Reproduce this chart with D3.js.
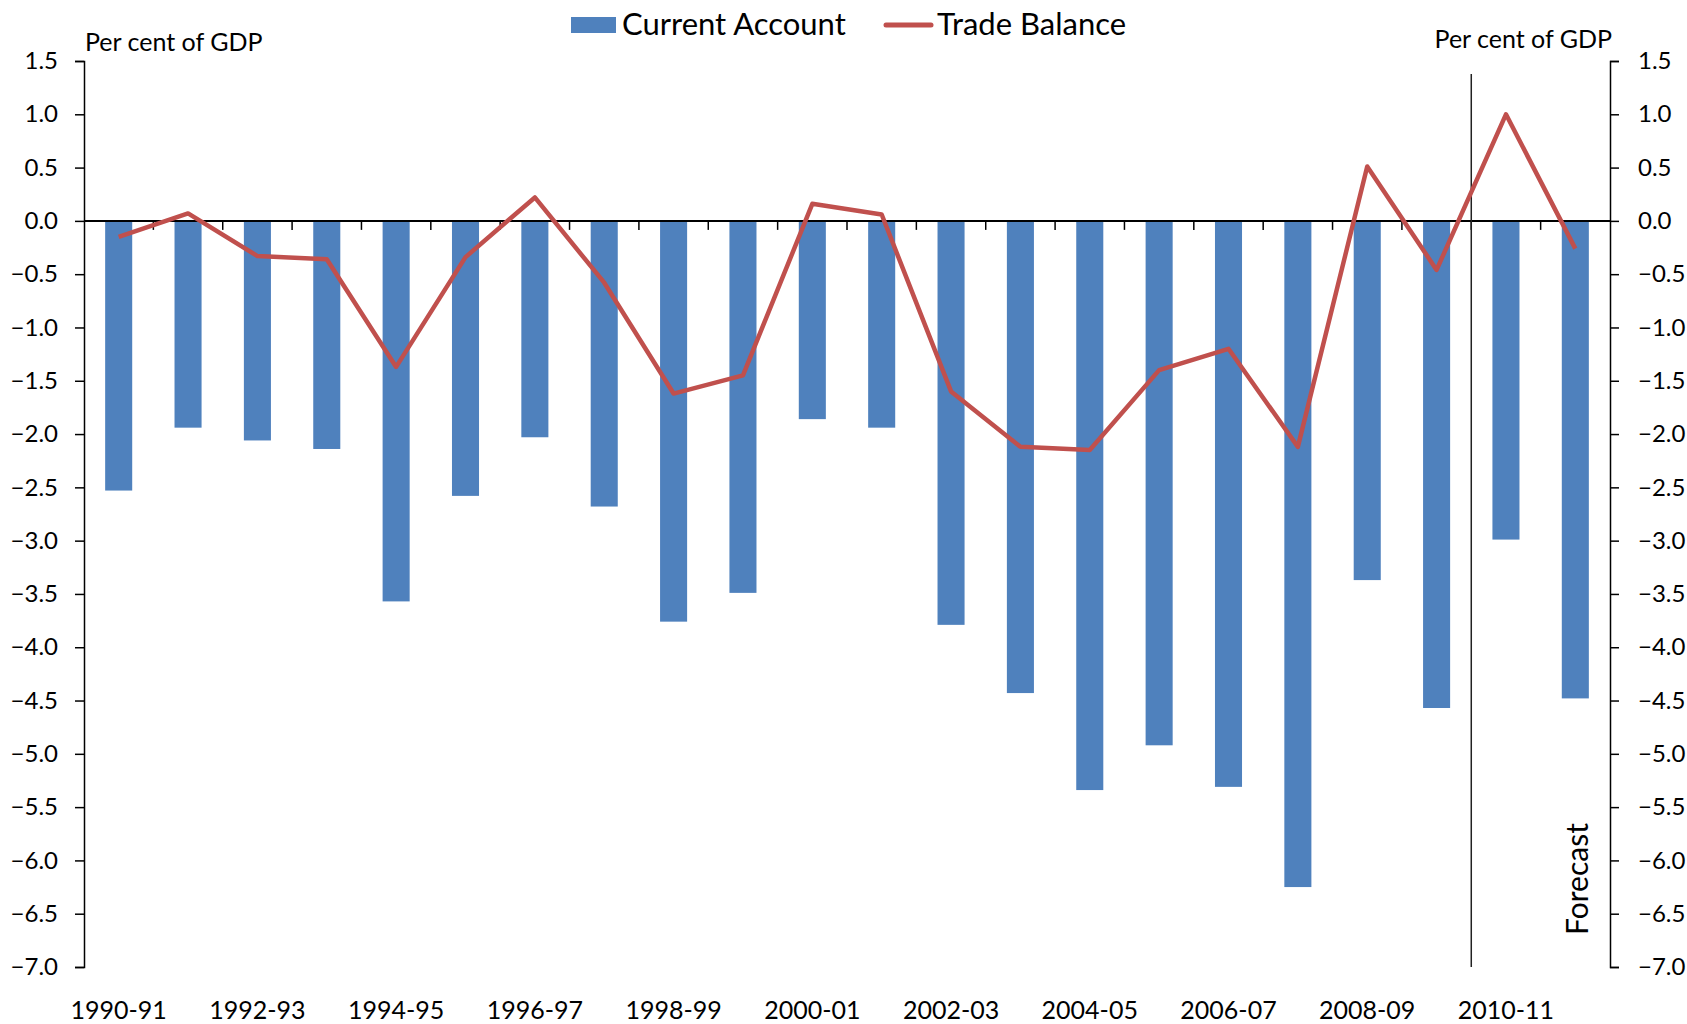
<!DOCTYPE html>
<html>
<head>
<meta charset="utf-8">
<script src="https://cdn.jsdelivr.net/npm/d3@7/dist/d3.min.js"></script>
<style>
  body { margin: 0; background: #fff; }
  text { font-family: Lato, "Open Sans", sans-serif; fill: #000; }
</style>
</head>
<body>
<script>
// financial years
var years = ["1990-91","1991-92","1992-93","1993-94","1994-95","1995-96","1996-97","1997-98",
    "1998-99","1999-00","2000-01","2001-02","2002-03","2003-04","2004-05","2005-06",
    "2006-07","2007-08","2008-09","2009-10","2010-11","2011-12"];

// Current account, per cent of GDP
var currentAccount = [-2.53, -1.94, -2.06, -2.14, -3.57, -2.58, -2.03, -2.68,
    -3.76, -3.49, -1.86, -1.94, -3.79, -4.43, -5.34, -4.92,
    -5.31, -6.25, -3.37, -4.57, -2.99, -4.48];

// Trade balance, per cent of GDP
var tradeBalance = [-0.15, 0.07, -0.33, -0.36, -1.37, -0.34, 0.22, -0.58,
    -1.62, -1.45, 0.16, 0.06, -1.60, -2.12, -2.15, -1.40,
    -1.20, -2.12, 0.51, -0.46, 1.00, -0.26];

var yTicks = d3.range(-7, 1.51, 0.5);
var forecastFrom = "2010-11";

var width = 1687, height = 1024;
var margin = {top: 61, right: 77, bottom: 57, left: 84};

var svg = d3.select("body")
    .append("svg")
    .attr("width", width)
    .attr("height", height);

var xScale = d3.scaleBand()
    .domain(years)
    .range([margin.left, width - margin.right])
    .paddingInner(0.61)
    .paddingOuter(0.305);

var yScale = d3.scaleLinear()
    .domain([-7, 1.5])
    .range([height - margin.bottom, margin.top]);

var step = xScale.step();
function centre(d) { return xScale(d) + xScale.bandwidth() / 2; }

// bars
svg.selectAll("rect.bar")
    .data(years)
    .enter()
    .append("rect")
    .attr("class", "bar")
    .attr("x", d => xScale(d))
    .attr("width", xScale.bandwidth())
    .attr("y", yScale(0))
    .attr("height", (d, i) => yScale(currentAccount[i]) - yScale(0))
    .attr("fill", "#4F81BD");

// left axis
svg.append("g")
    .attr("transform", `translate(${margin.left},0)`)
    .call(d3.axisLeft(yScale).tickValues(yTicks).tickSize(9).tickPadding(17).tickFormat(d3.format(".1f")))
    .call(g => g.select(".domain").attr("stroke", "#000").attr("stroke-width", 1.5))
    .call(g => g.selectAll(".tick line").attr("stroke-width", 1.5))
    .call(g => g.selectAll("text").style("font-size", "24px").attr("fill", "#000").style("font-family", "Lato"));

// right axis
svg.append("g")
    .attr("transform", `translate(${width - margin.right},0)`)
    .call(d3.axisRight(yScale).tickValues(yTicks).tickSize(9).tickPadding(19).tickFormat(d3.format(".1f")))
    .call(g => g.select(".domain").attr("stroke", "#000").attr("stroke-width", 1.5))
    .call(g => g.selectAll(".tick line").attr("stroke-width", 1.5))
    .call(g => g.selectAll("text").style("font-size", "24px").attr("fill", "#000").style("font-family", "Lato"));

// zero line with category ticks
svg.append("line")
    .attr("x1", margin.left)
    .attr("x2", width - margin.right)
    .attr("y1", yScale(0))
    .attr("y2", yScale(0))
    .attr("stroke", "#000")
    .attr("stroke-width", 2);

svg.selectAll("line.cattick")
    .data(years.slice(1))
    .enter()
    .append("line")
    .attr("class", "cattick")
    .attr("x1", d => centre(d) - step / 2)
    .attr("x2", d => centre(d) - step / 2)
    .attr("y1", yScale(0))
    .attr("y2", yScale(0) + 9)
    .attr("stroke", "#000")
    .attr("stroke-width", 1.5);

// category labels, every second year
svg.selectAll("text.xlab")
    .data(years.filter((d, i) => i % 2 === 0))
    .enter()
    .append("text")
    .attr("class", "xlab")
    .attr("x", d => centre(d))
    .attr("y", 1019)
    .attr("text-anchor", "middle")
    .style("font-size", "25px")
    .text(d => d);

// forecast divider
var fx = centre(forecastFrom) - step / 2;
svg.append("line")
    .attr("x1", fx)
    .attr("x2", fx)
    .attr("y1", 74)
    .attr("y2", yScale(-7))
    .attr("stroke", "#222")
    .attr("stroke-width", 1.5);

svg.append("text")
    .attr("transform", `translate(1588,879) rotate(-90)`)
    .attr("text-anchor", "middle")
    .style("font-size", "30px")
    .text("Forecast");

// trade balance line
var line = d3.line()
    .x((d, i) => centre(years[i]))
    .y(d => yScale(d));

svg.append("path")
    .datum(tradeBalance)
    .attr("d", line)
    .attr("fill", "none")
    .attr("stroke", "#C0504D")
    .attr("stroke-width", 4.5)
    .attr("stroke-linejoin", "round");

// axis titles
svg.append("text")
    .attr("x", 85)
    .attr("y", 51)
    .style("font-size", "25px")
    .text("Per cent of GDP");

svg.append("text")
    .attr("x", 1612)
    .attr("y", 48)
    .attr("text-anchor", "end")
    .style("font-size", "25px")
    .text("Per cent of GDP");

// legend
svg.append("rect")
    .attr("x", 571)
    .attr("y", 17)
    .attr("width", 45)
    .attr("height", 16)
    .attr("fill", "#4F81BD");

svg.append("text")
    .attr("x", 622)
    .attr("y", 35)
    .style("font-size", "31px")
    .text("Current Account");

svg.append("line")
    .attr("x1", 886)
    .attr("x2", 931)
    .attr("y1", 25)
    .attr("y2", 25)
    .attr("stroke", "#C0504D")
    .attr("stroke-width", 5)
    .attr("stroke-linecap", "round");

svg.append("text")
    .attr("x", 937)
    .attr("y", 35)
    .style("font-size", "31px")
    .text("Trade Balance");
</script>
</body>
</html>
